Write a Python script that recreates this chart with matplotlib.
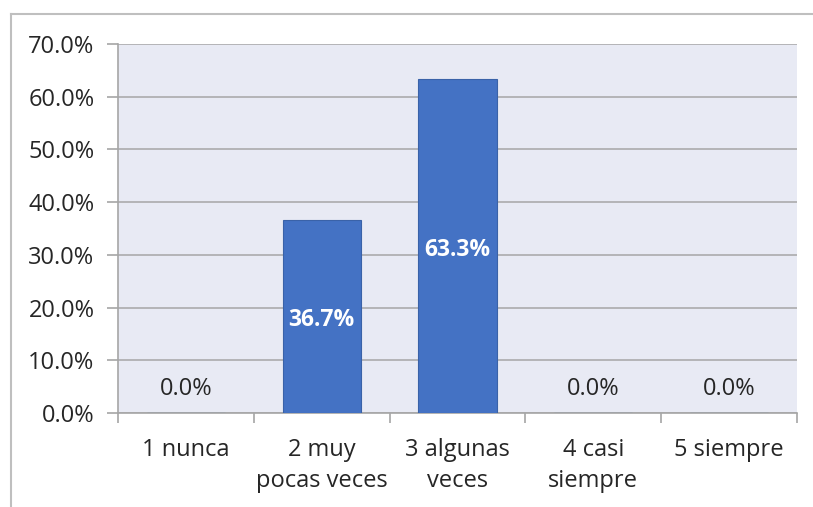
import matplotlib.pyplot as plt
from matplotlib.lines import Line2D
import numpy as np

categorias = ["1 nunca", "2 muy\npocas veces", "3 algunas\nveces", "4 casi\nsiempre", "5 siempre"]
porcentajes = [0.0, 36.7, 63.3, 0.0, 0.0]
yticks = [0, 10, 20, 30, 40, 50, 60, 70]

plt.rcParams['font.family'] = ['Open Sans', 'DejaVu Sans']

fig = plt.figure(figsize=(8.13, 5.07), dpi=100)
ax = fig.add_axes([118 / 813, 1 - 413 / 507, (797 - 118) / 813, (413 - 44) / 507])

x = np.arange(len(categorias))
bars = ax.bar(x, porcentajes, width=0.575, color='#4472C4', edgecolor='#3A62A8', linewidth=0.8, zorder=3)

ax.set_facecolor('#E8EAF4')
ax.set_xlim(-0.5, len(categorias) - 0.5)
ax.set_ylim(0, 70)
ax.set_yticks(yticks)
ax.set_yticklabels([f"{v:.1f}%" for v in yticks], fontsize=17, color='#262626')
ax.yaxis.grid(True, color='#A6A6A6', linewidth=1.1, zorder=0)
ax.set_axisbelow(True)

# category labels centered, ticks at boundaries
ax.set_xticks(x)
ax.set_xticklabels(categorias, fontsize=17, color='#262626', linespacing=1.4)
ax.tick_params(axis='x', length=0, pad=18)
ax.set_xticks(np.arange(-0.5, len(categorias)), minor=True)
ax.tick_params(axis='x', which='minor', length=7, color='#A6A6A6', width=1.2)
ax.tick_params(axis='y', length=8, color='#A6A6A6', width=1.2, pad=9)

for s in ['top', 'right']:
    ax.spines[s].set_visible(False)
for s in ['left', 'bottom']:
    ax.spines[s].set_color('#A6A6A6')
    ax.spines[s].set_linewidth(1.2)

for xi, v in zip(x, porcentajes):
    if v > 0:
        ax.annotate(f"{v:.1f}%", (xi, v / 2), xytext=(0, -4), textcoords='offset pixels',
                    ha='center', va='center', fontsize=16.5,
                    fontweight='bold', color='white', zorder=4)
    else:
        ax.annotate(f"{v:.1f}%", (xi, 0), xytext=(0, 24), textcoords='offset pixels',
                    ha='center', va='center', fontsize=17, color='#262626')

# outer chart border (partly cropped)
fig.add_artist(Line2D([11 / 813, 11 / 813], [0, 1 - 14 / 507], transform=fig.transFigure,
                      color='#BFBFBF', linewidth=1.5))
fig.add_artist(Line2D([11 / 813, 1], [1 - 14 / 507, 1 - 14 / 507], transform=fig.transFigure,
                      color='#BFBFBF', linewidth=1.5))

fig.savefig('out.png', dpi=100)
